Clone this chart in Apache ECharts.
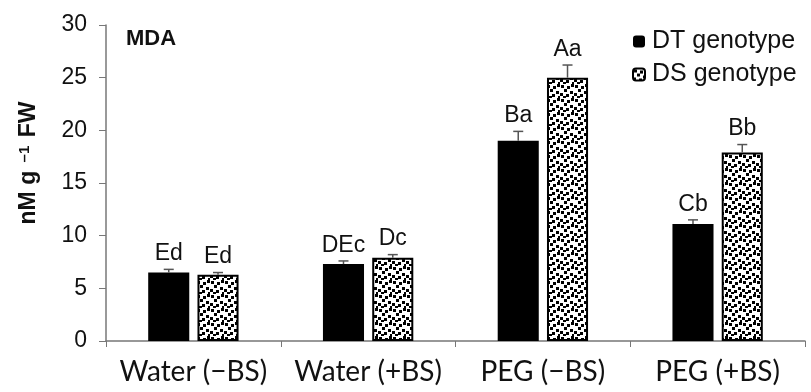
<!DOCTYPE html>
<html>
<head>
<meta charset="utf-8">
<script src="https://cdn.jsdelivr.net/npm/echarts@6/dist/echarts.min.js"></script>
<style>
  html, body { margin: 0; padding: 0; background: #fff; }
  #chart { width: 811px; height: 392px; }
</style>
</head>
<body>
<div id="chart"></div>
<script>
// data
const categories = ['Water (\u2212BS)', 'Water (+BS)', 'PEG (\u2212BS)', 'PEG (+BS)'];
const dtValues = [6.5, 7.3, 19.0, 11.1];
const dsValues = [6.3, 7.9, 25.0, 17.9];
const dtErrors = [0.3, 0.3, 0.9, 0.4];
const dsErrors = [0.2, 0.3, 1.2, 0.75];
const dtLetters = ['Ed', 'DEc', 'Ba', 'Cb'];
const dsLetters = ['Ed', 'Dc', 'Aa', 'Bb'];

const FONT = '"Liberation Sans", Arial, sans-serif';

// speckled fill used for the DS bars
function dotPattern() {
  const c = document.createElement('canvas');
  c.width = 14; c.height = 14;
  const ctx = c.getContext('2d');
  ctx.fillStyle = '#fff';
  ctx.fillRect(0, 0, 14, 14);
  ctx.fillStyle = '#000';
  const dots = [[1, 1], [7, 2], [11, 0], [4, 5], [10, 7], [0, 9], [6, 10], [12, 12], [3, 12]];
  dots.forEach(function (d) { ctx.fillRect(d[0], d[1], 3, 3); });
  return c;
}

const chart = echarts.init(document.getElementById('chart'));

function errorSeries(name, values, errors, letters, shift) {
  return {
    type: 'custom',
    name: name + ' err',
    z: 5,
    data: values.map(function (v, i) { return [i, v, errors[i]]; }),
    renderItem: function (params, api) {
      const i = api.value(0);
      const band = api.size([1, 0])[0];
      const top = api.coord([i, api.value(1)]);
      const hi = api.coord([i, api.value(1) + api.value(2)]);
      const x = top[0] + band * shift;
      return {
        type: 'group',
        children: [
          { type: 'line', shape: { x1: x, y1: top[1], x2: x, y2: hi[1] }, style: { stroke: '#555', lineWidth: 1.5 } },
          { type: 'line', shape: { x1: x - 5, y1: hi[1], x2: x + 5, y2: hi[1] }, style: { stroke: '#555', lineWidth: 1.5 } },
          {
            type: 'text',
            style: {
              x: x, y: hi[1] - 4, text: letters[i], textAlign: 'center', textVerticalAlign: 'bottom',
              fill: '#111', font: '23px ' + FONT
            }
          }
        ]
      };
    }
  };
}

chart.setOption({
  animation: false,
  textStyle: { fontFamily: FONT },
  grid: { left: 106, right: 6, top: 25, bottom: 51 },
  legend: {
    data: ['DT genotype', 'DS genotype'],
    orient: 'vertical',
    left: 627,
    top: 24,
    itemWidth: 12,
    itemHeight: 12,
    itemGap: 8,
    textStyle: { fontSize: 25, color: '#111', padding: [0, 0, 0, 2] }
  },
  graphic: [
    {
      type: 'text', left: 126, top: 28,
      style: { text: 'MDA', font: 'bold 22px ' + FONT, fill: '#111' }
    },
    {
      type: 'text', x: 29, y: 163, rotation: Math.PI / 2,
      style: {
        text: '{t|nM g }{s|\u20131}{t| FW}',
        textAlign: 'center', textVerticalAlign: 'middle',
        rich: {
          t: { fontSize: 23, fontWeight: 'bold', fontFamily: FONT, fill: '#111' },
          s: { fontSize: 15, fontWeight: 'bold', fontFamily: FONT, fill: '#111', verticalAlign: 'top', padding: [0, 2, 8, 2] }
        }
      }
    }
  ],
  xAxis: {
    type: 'category',
    data: categories,
    axisLine: { lineStyle: { color: '#777', width: 1.5 } },
    axisTick: { show: true, length: 6, lineStyle: { color: '#777' } },
    axisLabel: { interval: 0, fontSize: 28, color: '#111', margin: 17, fontFamily: 'Lato, "Open Sans", sans-serif' }
  },
  yAxis: {
    type: 'value',
    min: 0, max: 30, interval: 5,
    splitLine: { show: false },
    axisLine: { show: true, lineStyle: { color: '#777', width: 1.5 } },
    axisTick: { show: true, length: 7, lineStyle: { color: '#777' } },
    axisLabel: { fontSize: 23, color: '#111', margin: 19 }
  },
  series: [
    {
      name: 'DT genotype', type: 'bar', data: dtValues,
      barWidth: '23.5%', barGap: '20%',
      itemStyle: { color: '#000' }
    },
    {
      name: 'DS genotype', type: 'bar', data: dsValues,
      barWidth: '23.5%',
      itemStyle: { color: { image: dotPattern(), repeat: 'repeat' }, borderColor: '#000', borderWidth: 2 }
    },
    errorSeries('DT', dtValues, dtErrors, dtLetters, -0.141),
    errorSeries('DS', dsValues, dsErrors, dsLetters, 0.141)
  ]
});
</script>
</body>
</html>
